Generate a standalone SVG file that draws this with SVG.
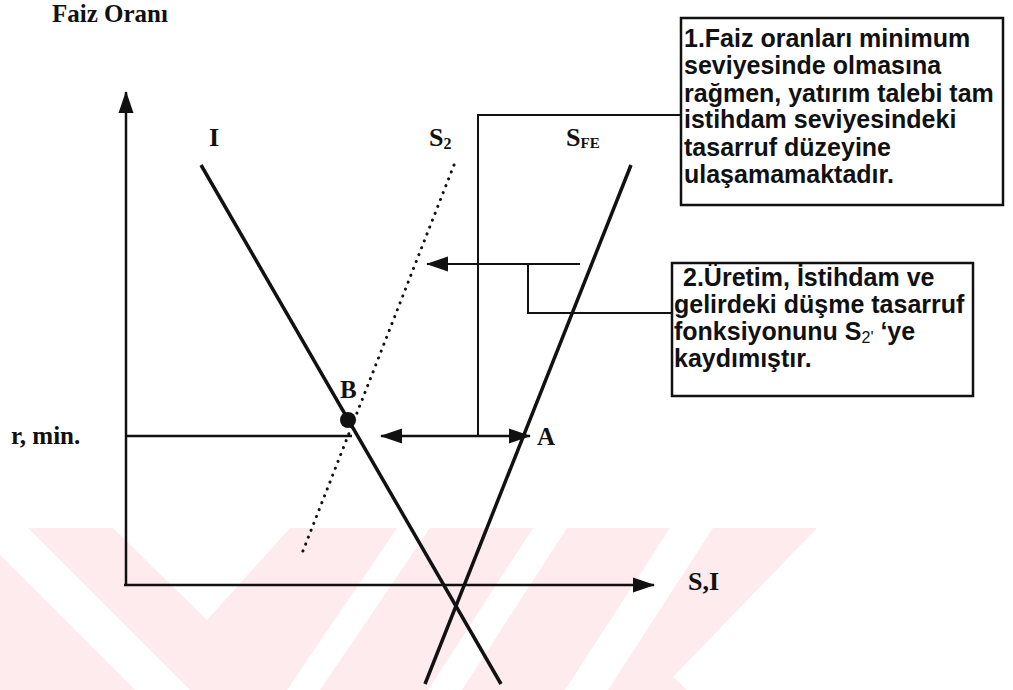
<svg xmlns="http://www.w3.org/2000/svg" width="1013" height="690" viewBox="0 0 1013 690">
<style>
.serif{font-family:"Liberation Serif","Times New Roman",serif;font-weight:bold;fill:#111}
.sans{font-family:"Liberation Sans",Arial,sans-serif;font-weight:bold;fill:#111;font-size:25px}
.ln{stroke:#111;fill:none}
.box{fill:#fff;stroke:#111;stroke-width:2.5}
.wm{fill:#fdebee}
.wh{fill:#fff}
</style>
<defs>
<marker id="ah" markerUnits="userSpaceOnUse" markerWidth="22" markerHeight="16" refX="21" refY="7.5" orient="auto-start-reverse" viewBox="0 0 22 15">
<path d="M0,0 L22,7.5 L0,15 z" fill="#111"/>
</marker>
</defs>
<rect width="1013" height="690" fill="#fff"/>
<g id="watermark">
<polygon class="wm" points="0,528 817,528 673,677 687,690 0,690"/>
<polygon class="wh" points="0,528 28,528 190,690 135,690 0,555"/>
<polygon class="wh" points="113,528 290,528 207,620"/>
<polygon class="wh" points="397,528 430,528 320,690 287,690"/>
<polygon class="wh" points="533,528 567,528 462,690 428,690"/>
<polygon class="wh" points="670,528 713,528 608,690 565,690"/>
</g>
<g id="connectors">
<line class="ln" x1="126" y1="586" x2="126" y2="92" stroke-width="2.5" marker-end="url(#ah)"/>
<line class="ln" x1="124" y1="585" x2="654" y2="585" stroke-width="2.5" marker-end="url(#ah)"/>
<line class="ln" x1="201" y1="165" x2="501" y2="684" stroke-width="3.5"/>
<line class="ln" x1="631" y1="165" x2="425" y2="684" stroke-width="3.5"/>
<line class="ln" x1="454" y1="165" x2="301" y2="556" stroke-width="3" stroke-dasharray="0.1 7.3" stroke-linecap="round"/>
<line class="ln" x1="126" y1="436" x2="352" y2="436" stroke-width="2.5"/>
<line class="ln" x1="381" y1="436" x2="530" y2="436" stroke-width="2.5" marker-start="url(#ah)" marker-end="url(#ah)"/>
<line class="ln" x1="580" y1="264" x2="427" y2="264" stroke-width="2" marker-end="url(#ah)"/>
<polyline class="ln" points="478,436 478,115 681,115" stroke-width="2"/>
<polyline class="ln" points="528,264 528,313 672,313" stroke-width="2"/>
<circle cx="348" cy="420" r="8" fill="#111"/>
</g>
<g id="axis-labels">
<text class="serif" x="52" y="22" font-size="25">Faiz Oranı</text>
<text class="serif" x="11" y="444" font-size="25">r, min.</text>
<text class="serif" x="688" y="590" font-size="26">S,I</text>
</g>
<g id="curve-labels">
<text class="serif" x="209" y="146" font-size="26">I</text>
<text class="serif" x="429" y="146" font-size="26">S<tspan font-size="16" dy="3">2</tspan></text>
<text class="serif" x="566" y="146" font-size="26">S<tspan font-size="15" dy="2">FE</tspan></text>
<text class="serif" x="340" y="398" font-size="25">B</text>
<text class="serif" x="537" y="445" font-size="25">A</text>
</g>
<g id="box1">
<rect class="box" x="681" y="18" width="322" height="187"/>
<text class="sans" x="684" y="47">1.Faiz oranları minimum</text>
<text class="sans" x="684" y="74">seviyesinde olmasına</text>
<text class="sans" x="684" y="102">rağmen, yatırım talebi tam</text>
<text class="sans" x="684" y="128">istihdam seviyesindeki</text>
<text class="sans" x="684" y="156">tasarruf düzeyine</text>
<text class="sans" x="684" y="183">ulaşamamaktadır.</text>
</g>
<g id="box2">
<rect class="box" x="672" y="263" width="301" height="133"/>
<text class="sans" x="683" y="286">2.Üretim, İstihdam ve</text>
<text class="sans" x="674" y="313">gelirdeki düşme tasarruf</text>
<text class="sans" x="674" y="340">fonksiyonunu S<tspan font-size="16" dy="3" font-weight="normal">2'</tspan><tspan dy="-3"> ‘ye</tspan></text>
<text class="sans" x="674" y="367">kaydımıştır.</text>
</g>
</svg>
